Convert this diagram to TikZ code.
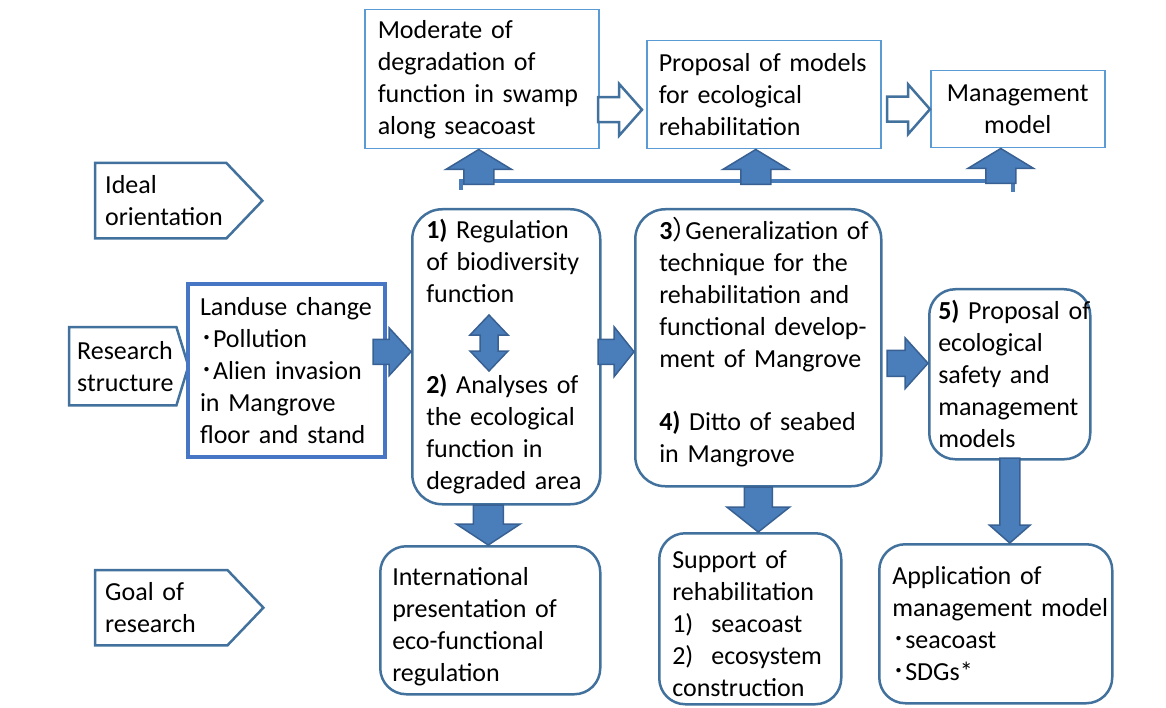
\documentclass[tikz,border=0pt]{standalone}
\usepackage{fontspec}
\setmainfont{Carlito}
\newfontfamily\cjk[RawFeature=+halt]{Noto Sans CJK JP}
\usepackage{tikz}

\definecolor{boxedge}{RGB}{65,113,156}
\definecolor{topedge}{RGB}{91,155,213}
\definecolor{landedge}{RGB}{70,118,196}
\definecolor{arrowfill}{RGB}{74,126,187}
\definecolor{arrowedge}{RGB}{56,96,146}
\newcommand{\dotmark}{{\cjk ･}}
\newcommand{\topgap}[1]{\mbox{}\\[#1]}
\newcommand{\botgap}[1]{\\[#1]\mbox{}}
\hyphenpenalty=10000
\exhyphenpenalty=10000

\tikzset{
  pics/barrow/.style n args={5}{code={
    \path[#5] (0,0) -- (-#3,#4) -- (-#3,#2) -- (-#1,#2) -- (-#1,-#2) -- (-#3,-#2) -- (-#3,-#4) -- cycle;}},
  pics/dbarrow/.style={code={
    \path[fill arrow] (0,-28) -- (19,-8) -- (9,-8) -- (9,8) -- (19,8) -- (0,28) -- (-19,8) -- (-9,8) -- (-9,-8) -- (-19,-8) -- cycle;}}
}

\begin{document}
\begin{tikzpicture}[x=1pt, y=-1pt, font=\fontsize{26}{32}\selectfont,
		top node/.style={draw=topedge, line width=1.5pt, anchor=north west, align=left, inner ysep=1pt},
		round node/.style={draw=boxedge, line width=2.5pt, rounded corners=26pt, anchor=north west, align=left, inner ysep=1pt},
		land node/.style={draw=landedge, line width=4pt, anchor=north west, align=left, inner ysep=1pt},
		tag node/.style={anchor=north west, align=left, inner ysep=1pt},
		tag line/.style={draw=boxedge, line width=2.5pt, line join=miter},
		fill arrow/.style={fill=arrowfill, draw=arrowedge, line width=1.5pt},
		open arrow/.style={fill=white, draw=boxedge, line width=2.5pt},
		bar line/.style={draw=arrowfill, line width=4pt}]
	\useasboundingbox (0,0) rectangle (1166,708);
	
	% top row
	\node[top node, text width=208pt, inner xsep=13pt, minimum height=139pt] (mod) at (364,9) {Moderate of\\ degradation of\\ function in swamp\\ along seacoast};
	\node[top node, text width=210pt, inner xsep=12pt, minimum height=108pt] (prop) at (646,40) {Proposal~of~models\\ for ecological\\ rehabilitation};
	\node[top node, align=center, text width=160pt, inner xsep=7pt, minimum height=77pt] (mgmt) at (930,70) {Management\\ model};
	
	% row labels
	\node[tag node, text width=111pt, inner xsep=10pt, minimum height=75pt] (ideal) at (95,163) {Ideal\\ orientation};
	\node[tag node, text width=91pt, inner xsep=8pt, minimum height=78pt] (res) at (69,327) {Research\\ structure};
	\node[tag node, text width=112pt, inner xsep=10pt, minimum height=75pt] (goal) at (95,570) {Goal of\\ research};
	\foreach \n/\t in {ideal/36, res/12, goal/36}
		\draw[tag line] (\n.north west) -- (\n.north east) -- ([xshift=\t pt]\n.east) -- (\n.south east) -- (\n.south west) -- cycle;
	
	% research structure
	\node[land node, text width=173pt, inner xsep=12pt, minimum height=173pt] (land) at (186,282) {Landuse~change\\ \dotmark Pollution\\ \dotmark Alien~invasion\\ in Mangrove\\ floor~and~stand};
	\node[round node, rounded corners=30pt, text width=160pt, inner xsep=14pt, minimum height=295pt] (b1) at (411,208) {\textbf{1)} Regulation\\ of~biodiversity\\ function\\[59pt] \textbf{2)} Analyses~of\\ the~ecological\\ function in\\ degraded~area};
	\node[round node, rounded corners=30pt, text width=198pt, inner xsep=24pt, minimum height=277pt] (b3) at (634,208) {\textbf{3}{\cjk ）}Generalization~of\\ technique~for~the\\ rehabilitation~and\\ functional~develop-\\ ment~of~Mangrove\\[31pt] \textbf{4)} Ditto of seabed\\ in Mangrove\botgap{-16pt}};
	\node[round node, text width=143pt, inner xsep=9pt, minimum height=170pt] (b5) at (928,288) {\textbf{5)}~Proposal~of\\ ecological\\ safety and\\ management\\ models};
	
	% goals
	\node[round node, text width=196pt, inner xsep=12pt, minimum height=148pt] (intl) at (379,545) {\topgap{-1.5pt}International\\ presentation of\\ eco-functional\\ regulation};
	\node[round node, text width=156pt, inner xsep=13pt, minimum height=171pt] (sup) at (658,532) {\topgap{-3.5pt}Support of\\ rehabilitation\\ 1)\hspace{18pt}seacoast\\ 2)\hspace{18pt}ecosystem\\ construction};
	\node[round node, text width=207pt, inner xsep=13pt, minimum height=159pt] (app) at (878,543) {Application of\\ management~model\\ \dotmark seacoast\\ \dotmark SDGs*};
	
	% bracket under the top row
	\coordinate (bl) at (461,190);
	\coordinate (br) at (1013,192);
	\draw[bar line] (bl) -- ++(0,-9) -| (br);
	
	% block arrows
	\pic[rotate=90] at ([xshift=-3pt]mod.south) {barrow={35}{15}{20}{33}{fill arrow}};
	\pic[rotate=90] at ([xshift=-8pt]prop.south) {barrow={35}{15}{20}{33}{fill arrow}};
	\pic[rotate=90] at ([xshift=-17pt]mgmt.south) {barrow={35}{15}{20}{33}{fill arrow}};
	\pic at ([xshift=-4pt, yshift=-15pt]prop.west) {barrow={44}{12.5}{23}{26}{open arrow}};
	\pic at (mgmt.west) {barrow={43}{12.5}{22}{25}{open arrow}};
	\pic at ([yshift=5pt]b1.west) {barrow={38}{12.5}{22}{24}{fill arrow}};
	\pic at ([yshift=-4pt]b3.west) {barrow={36}{12.5}{20}{25}{fill arrow}};
	\pic at ([yshift=11pt]b5.west) {barrow={41}{13}{23}{25.5}{fill arrow}};
	\pic[rotate=-90] at ([xshift=-2pt]intl.north) {barrow={40}{15}{21}{32}{fill arrow}};
	\pic[rotate=-90] at ([xshift=8pt]sup.north) {barrow={45}{14}{25}{31.5}{fill arrow}};
	\pic[rotate=-90] at (b5.south |- app.north) {barrow={85}{10}{18}{20.5}{fill arrow}};
	\pic at (489,343) {dbarrow};
\end{tikzpicture}
\end{document}
